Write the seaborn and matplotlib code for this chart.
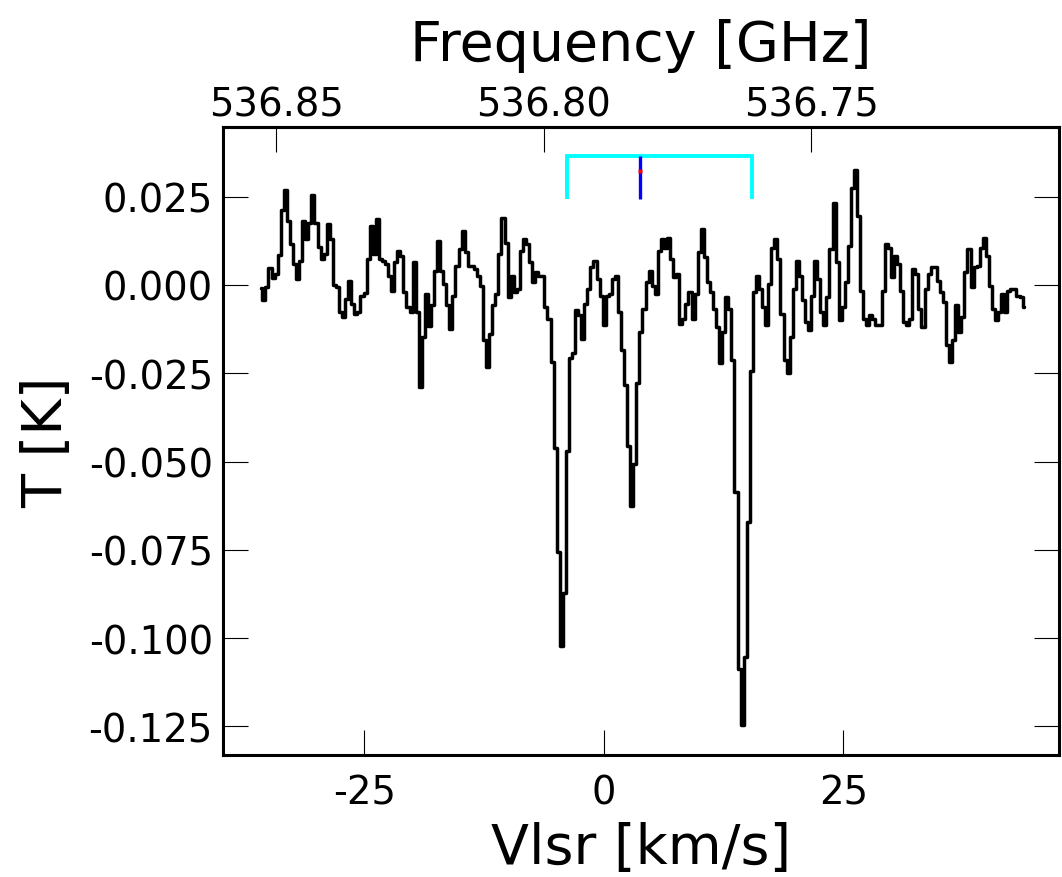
import numpy as np
import pandas as pd
import matplotlib
matplotlib.use("Agg")
import matplotlib.pyplot as plt
from matplotlib.ticker import FormatStrFormatter, FixedLocator
import seaborn as sns

# ---- spectrum data (antenna temperature in mK, one value per channel) ----
SEG_A = [-0.9, -4.4, -0.5, 4.7, 2.0, 3.1, 8.6, 21.3, 26.8, 18.1,
         11.6, 5.9, 1.7, 6.9, 18.1, 12.9, 17.6, 25.5, 17.6, 10.7,
         7.3, 8.8, 17.2, 12.9, 0.0, -0.7, -7.7, -9.2, -3.9, 1.2,
         -5.4, -8.1, -7.7, -3.0, -2.2, 7.3, 16.8, 8.8, 18.7, 7.3,
         6.9, 5.9, 2.6, -1.6, 6.4, 9.6, 8.2, -2.0, -6.2, -7.7,
         6.4, -7.7, -29.0, -14.6, -2.5, -11.5, -5.8, 4.0, 12.4]
SEG_B = [4.0, 0.3, -5.8, -12.4, -3.0, 5.4, 10.1, 15.3, 9.2, 5.4,
         5.4, 4.5, 2.6, -0.2, -15.6, -23.1, -13.8, -5.8, -2.5, 8.7,
         19.0, 12.0, -3.5, 2.6, -2.1, -1.1, 9.6, 12.9, 11.5, 6.4,
         0.7, 3.6, 2.6, 2.6, -6.3, -9.6, -21.7]
SEG_C = [-46.3, -75.6, -102.2, -87.3, -47.0, -20.8, -19.4, -7.2, -8.6, -15.2,
         -5.3, -1.1, 5.0, 6.8, 1.7, -3.0, -11.4, -3.0, -2.5, 1.7,
         2.6, -7.7, -18.4, -28.3, -45.6, -62.5, -50.7, -27.8]
SEG_D = [-13.3, -6.7, 0.7, 4.0, -0.2, -2.5, 9.6, 12.9, 10.6, 13.4,
         7.3, 2.2, 3.1, -11.0, -9.6, -5.3, -2.1, -9.6, -2.5, 9.2,
         15.9, 7.8, 0.7, -2.1, -6.7, -11.9, -22.2, -13.3, -3.5, -6.7,
         -21.3]
SEG_DIP = [-58.7, -108.8, -124.7, -105.5, -67.1, -24.5]
SEG_E = [-2.1, 2.6, -1.1, -6.3, -11.4, 0.3, 10.6, 12.9, 7.3, -8.1,
         -21.3, -25.0, -14.7, -1.1, 6.8, 2.6, -4.4, -10.5, -12.8, -3.0,
         6.8, 1.7, -7.7, -11.4, -3.5, 10.1, 23.2, 6.4, -10.0, -6.3,
         0.7, 11.0, 27.4, 32.6]
SEG_F = [19.5, -1.6, -9.6, -11.4, -8.6, -9.6, -11.4, -11.4, -1.6, 11.5,
         10.6, 2.2, 8.2, 5.9, -1.6, -10.5, -11.4, -9.6, 4.5, 3.1,
         -6.7, -11.9, -1.1, 3.1, 5.0, 5.0, 1.2, -2.1, -4.9, -17.0,
         -21.7, -15.6, -5.8, -13.3, -9.1, 3.6, 10.1, -0.7, 5.0, 5.4,
         10.6, 13.4, 8.2, -0.2, -6.7, -10.0, -7.7, -2.5, -7.7, -1.6,
         -1.1, -1.1, -3.0, -3.5, -6.3]

V_START = -35.82          # km/s, first channel
CHANNEL_WIDTH = 0.32      # km/s
REST_FREQ_GHZ = 536.7887
C_KMS = 299792.458

XTICKS = [-25, 0, 25]
YTICKS = [0.025, 0.0, -0.025, -0.05, -0.075, -0.1, -0.125]
FREQ_TICKS = [536.85, 536.80, 536.75]

# hyperfine component markers
HFS_V = [-3.86, 3.79, 15.45]
HFS_TOP = 0.0366
HFS_BOTTOM = 0.0243
HFS_DOT = 0.0324

XLIM = (-39.8, 47.5)
YLIM = (-0.1331, 0.04465)

# ---- style ----
sns.set_style("white")
plt.rcParams['font.family'] = ['DejaVu Sans']
plt.rcParams['axes.unicode_minus'] = False
for key in ("text.color", "axes.labelcolor", "xtick.color", "ytick.color",
            "axes.edgecolor"):
    plt.rcParams[key] = "black"

t_mk = np.array(SEG_A + SEG_B + SEG_C + SEG_D + SEG_DIP + SEG_E + SEG_F)
velocity = V_START + CHANNEL_WIDTH * np.arange(len(t_mk))
df = pd.DataFrame({"v": velocity, "T": t_mk / 1000.0})

fig = plt.figure(figsize=(10.62, 8.78), dpi=100)
ax = fig.add_axes([0.2097, 0.1390, 0.7875, 0.7149])

sns.lineplot(data=df, x="v", y="T", ax=ax, color="black", lw=2.5,
             drawstyle="steps-mid", estimator=None, sort=False)

# hyperfine bracket
ax.plot([HFS_V[0], HFS_V[0], HFS_V[2], HFS_V[2]],
        [HFS_BOTTOM, HFS_TOP, HFS_TOP, HFS_BOTTOM],
        color="#00FFFF", lw=2.8, solid_joinstyle="miter", solid_capstyle="butt")
ax.plot([HFS_V[1], HFS_V[1]], [HFS_BOTTOM, HFS_TOP], color="#0000FF", lw=2.4,
        solid_capstyle="butt")
ax.plot([HFS_V[1]], [HFS_DOT], marker="s", color="red", ms=2.2, mec="none")

ax.set_xlim(*XLIM)
ax.set_ylim(*YLIM)
ax.set_xticks(XTICKS)
ax.set_yticks(YTICKS)
ax.yaxis.set_major_formatter(FormatStrFormatter("%.3f"))
ax.xaxis.set_major_formatter(FormatStrFormatter("%d"))

for s in ax.spines.values():
    s.set_visible(True)
    s.set_linewidth(2.2)
    s.set_color("black")

ax.tick_params(axis="x", direction="in", length=18, width=0.8, labelsize=27.8,
               pad=13, top=False, bottom=True, colors="black")
ax.tick_params(axis="y", direction="in", length=18, width=0.8, labelsize=27.8,
               pad=7, left=True, right=True, colors="black")

ax.set_xlabel("Vlsr [km/s]", fontsize=40, labelpad=7, color="black")
ax.set_ylabel("T [K]", fontsize=40, labelpad=10.5, color="black")


def v2f(v):
    return REST_FREQ_GHZ * (1.0 - np.asarray(v) / C_KMS)


def f2v(f):
    return C_KMS * (1.0 - np.asarray(f) / REST_FREQ_GHZ)


sec = ax.secondary_xaxis("top", functions=(v2f, f2v))
sec.xaxis.set_major_locator(FixedLocator(FREQ_TICKS))
sec.xaxis.set_major_formatter(FormatStrFormatter("%.2f"))
sec.xaxis.set_minor_locator(FixedLocator([]))
sec.tick_params(direction="in", length=18, width=0.8, labelsize=27.8, pad=3,
                colors="black")
sec.spines["top"].set_linewidth(2.2)
sec.set_xlabel("Frequency [GHz]", fontsize=40, labelpad=18, color="black")

fig.savefig("out.png", dpi=100, facecolor="white")
